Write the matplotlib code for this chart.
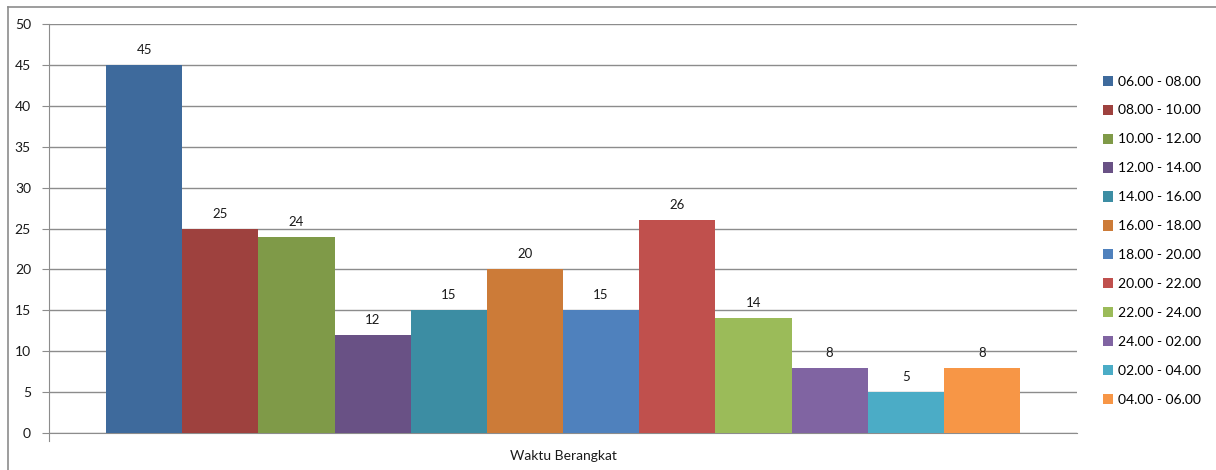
import matplotlib.pyplot as plt
from matplotlib.lines import Line2D
from matplotlib.patches import Patch

plt.rcParams['font.family'] = ['Lato', 'DejaVu Sans']

category = "Waktu Berangkat"
series_names = ["06.00 - 08.00", "08.00 - 10.00", "10.00 - 12.00", "12.00 - 14.00",
                "14.00 - 16.00", "16.00 - 18.00", "18.00 - 20.00", "20.00 - 22.00",
                "22.00 - 24.00", "24.00 - 02.00", "02.00 - 04.00", "04.00 - 06.00"]
values = [45, 25, 24, 12, 15, 20, 15, 26, 14, 8, 5, 8]
colors = ["#3E6A9C", "#9E413E", "#7F9A48", "#695185", "#3C8DA3", "#CC7B38",
          "#4F81BD", "#C0504D", "#9BBB59", "#8064A2", "#4BACC6", "#F79646"]
y_ticks = [0, 5, 10, 15, 20, 25, 30, 35, 40, 45, 50]

W, H = 1216, 470
fig = plt.figure(figsize=(W / 100, H / 100), dpi=100)
ax = fig.add_axes([49 / W, 1 - 433 / H, (1077 - 49) / W, (433 - 24) / H])

grid_col = "#8C8C8C"
group_width = 914 / 1028
bar_w = group_width / len(values)
start = -group_width / 2

for i, (name, v, c) in enumerate(zip(series_names, values, colors)):
    x = start + bar_w * (i + 0.5)
    ax.bar(x, v, width=bar_w, color=c, label=name, zorder=3, linewidth=0)
    ax.text(x, v + 1.1, str(v), ha="center", va="bottom", fontsize=9.5, color="#1a1a1a")

ax.set_xlim(-0.5, 0.5)
ax.set_ylim(0, 50)
ax.set_yticks(y_ticks)
ax.set_yticklabels([str(t) for t in y_ticks], fontsize=10, color="#1a1a1a")
ax.yaxis.grid(True, color=grid_col, linewidth=1.0, zorder=0)
ax.set_xticks([0])
ax.set_xticklabels([category], fontsize=10, color="#1a1a1a")
ax.tick_params(axis="x", length=0, pad=12)
ax.tick_params(axis="y", length=5, color=grid_col, pad=8)

for side in ["top", "right"]:
    ax.spines[side].set_visible(False)
ax.spines["left"].set_color(grid_col)
ax.spines["bottom"].set_color(grid_col)
ax.spines["left"].set_bounds(-1, 50)
ax.set_ylim(0, 50)

handles = [Patch(facecolor=c, edgecolor="none") for c in colors]
fig.legend(handles, series_names, loc="upper left", bbox_to_anchor=(1097 / W, 1 - 70 / H),
           frameon=False, fontsize=10, handlelength=0.75, handleheight=0.75,
           handletextpad=0.35, labelspacing=1.22, borderaxespad=0)

# outer chart border
fig.add_artist(Line2D([8 / W, 1.0], [1 - 7 / H, 1 - 7 / H], color="#8C8C8C", linewidth=1.2))
fig.add_artist(Line2D([8 / W, 8 / W], [0, 1 - 7 / H], color="#8C8C8C", linewidth=1.2))

fig.savefig("out.png", dpi=100)
